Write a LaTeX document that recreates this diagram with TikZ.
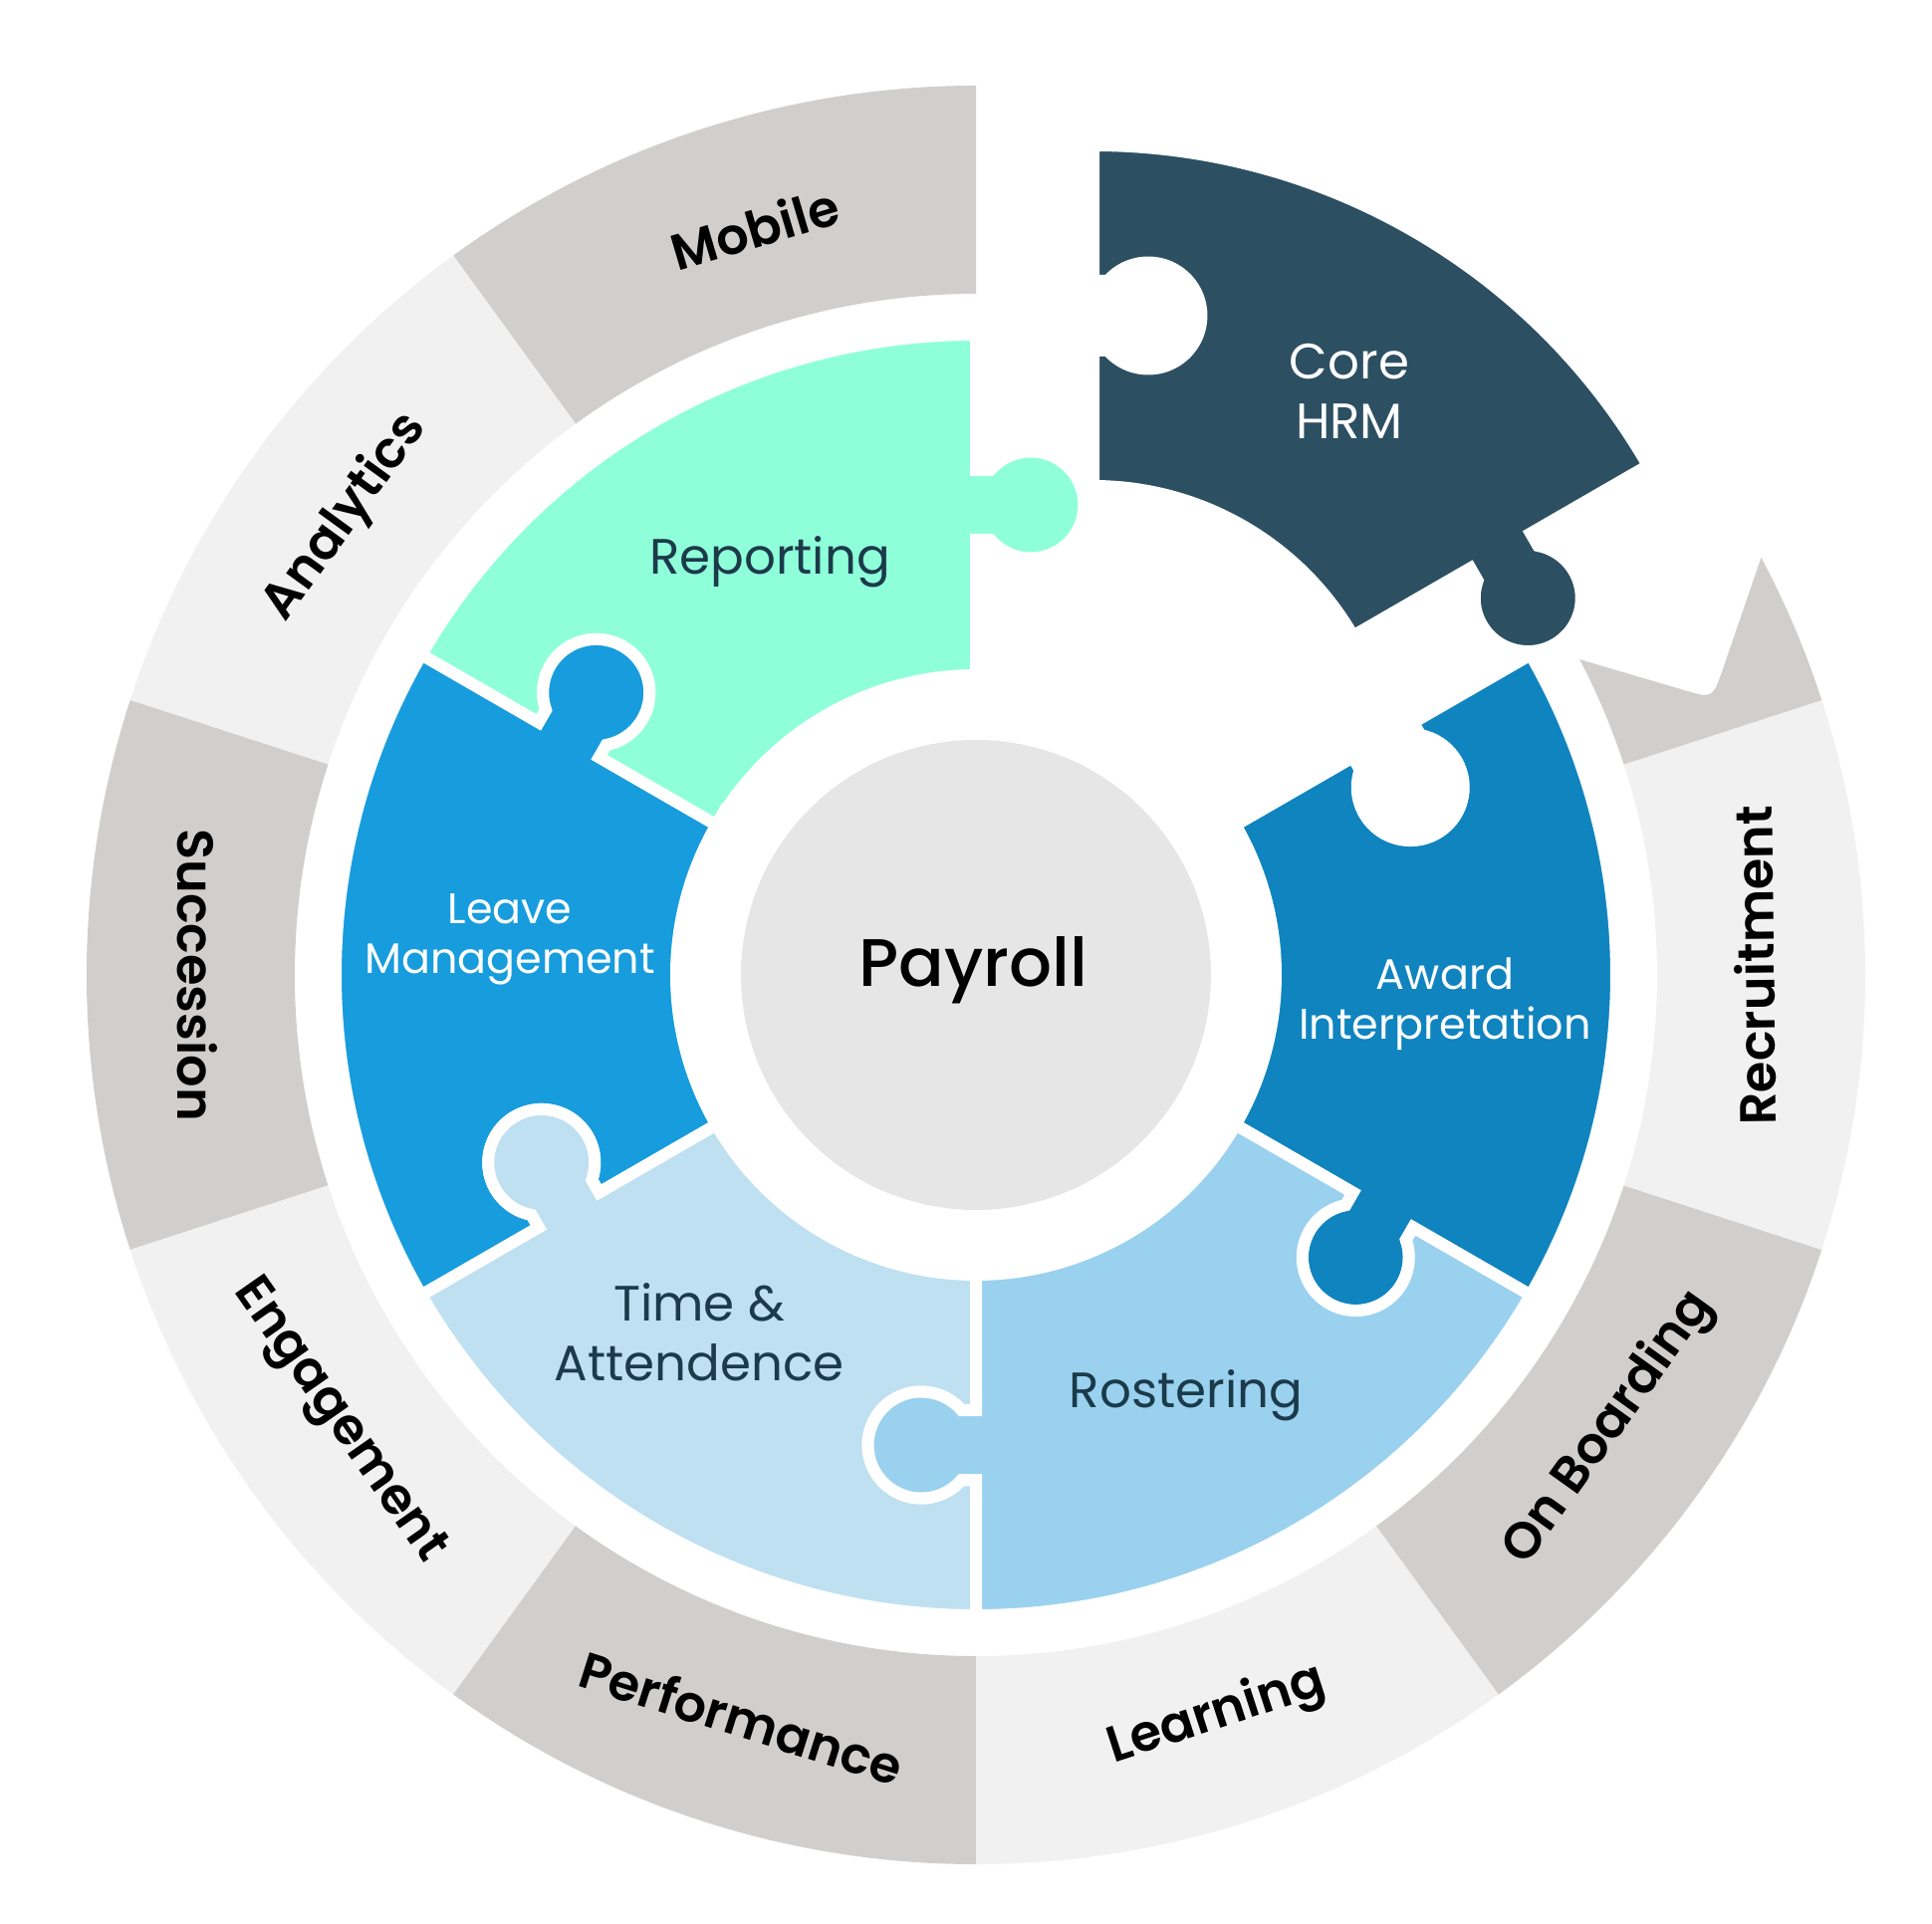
\documentclass[tikz,border=0pt]{standalone}
\usepackage{fontspec}
\setmainfont{Poppins}
\newfontfamily\ringfont{Poppins SemiBold}
\newfontfamily\centrefont{Poppins Medium}
\usetikzlibrary{calc,positioning}

\definecolor{ringdark}{HTML}{D0CFCE}
\definecolor{ringlight}{HTML}{F1F1F1}
\definecolor{reportmint}{HTML}{8FFFDA}
\definecolor{leaveblue}{HTML}{179CDD}
\definecolor{timeblue}{HTML}{BEE0F1}
\definecolor{rosterblue}{HTML}{99D1EF}
\definecolor{awardblue}{HTML}{0F84BF}
\definecolor{coreslate}{HTML}{2C4F62}
\definecolor{payrollgray}{HTML}{E6E6E6}
\definecolor{labeldark}{HTML}{1B3A4A}

% puzzle ring sizes (cm)
\def\rin{3.01}
\def\rout{6.43}
\def\rk{4.72}
\def\ka{0.35}
\def\kh{0.145}
\def\kr{0.535}

% knob on an edge, walked from inside to outside
\def\knobout#1{-- ([rotate=#1]\rk-\ka,0) -- ([rotate=#1]\rk-\ka,-\kh)
  arc[start angle=#1+130.86, end angle=#1+409.14, radius=\kr]
  -- ([rotate=#1]\rk+\ka,0)}
% the same edge, walked from outside to inside
\def\knobin#1{-- ([rotate=#1]\rk+\ka,0) -- ([rotate=#1]\rk+\ka,-\kh)
  arc[start angle=#1+409.14, end angle=#1+130.86, radius=\kr]
  -- ([rotate=#1]\rk-\ka,0)}
% one puzzle piece from angle #1 to #1+60
\def\piece#1#2{\fill[#2, puzzleedge] (#1:\rin) \knobout{#1} -- (#1:\rout)
  arc[start angle=#1, end angle=#1+60, radius=\rout] \knobin{#1+60}
  -- (#1+60:\rin) arc[start angle=#1+60, end angle=#1, radius=\rin] -- cycle;}

\tikzset{
  puzzleedge/.style={draw=white, line width=0.12cm, line join=miter},
  ringlabel/.style={font=\ringfont\fontsize{14.5}{17}\selectfont, text=black},
  piecelabel/.style={font=\fontsize{14.2}{17.2}\selectfont, align=center, text=labeldark},
  smalllabel/.style={font=\fontsize{12.2}{14.3}\selectfont, align=center, text=white},
}

\begin{document}
\begin{tikzpicture}
    \useasboundingbox (-9.80,-9.52) rectangle (9.60,9.79);

    % Outer ring
    \foreach \a/\c in {90/ringdark,126/ringlight,162/ringdark,198/ringlight,
                       234/ringdark,270/ringlight,306/ringdark,342/ringlight}
        \fill[\c] (\a:6.84) -- (\a:8.93) arc[start angle=\a, end angle=\a+36, radius=8.93]
            -- (\a+36:6.84) arc[start angle=\a+36, end angle=\a, radius=6.84] -- cycle;

    % Cut segment next to Core HRM
    \fill[ringdark] (18:6.84) -- (18:8.93) arc[start angle=18, end angle=28, radius=8.93]
        -- (7.495,3.058) .. controls (7.395,2.775) .. (7.108,2.861)
        -- (27.6:6.84) arc[start angle=27.6, end angle=18, radius=6.84] -- cycle;

    % Puzzle pieces
    \piece{-30}{awardblue}
    \piece{90}{reportmint}
    \piece{150}{leaveblue}
    \piece{210}{timeblue}
    \piece{270}{rosterblue}
    \begin{scope}[shift={(1.18,1.90)}]
        \piece{30}{coreslate}
    \end{scope}

    % Centre
    \fill[payrollgray] (0,0) circle (2.36);
    \node[font=\centrefont\fontsize{19.2}{22}\selectfont] (payroll) at (-0.03,0.05) {Payroll};

    % Piece labels
    \node[piecelabel] (reporting) at (-2.07,4.15) {Reporting};
    \node[smalllabel] (leave) at (-4.68,0.36) {Leave\\Management};
    \node[piecelabel] (time) at (-2.78,-3.59) {Time \&\\Attendence};
    \node[piecelabel] (rostering) at (2.11,-4.22) {Rostering};
    \node[smalllabel] (award) at (4.71,-0.29) {Award\\Interpretation};
    \node[piecelabel, text=white] (core) at (3.75,5.86) {Core\\HRM};

    % Ring labels
    \node[ringlabel, rotate=16.5] (mobile) at (106.5:7.82) {Mobile};
    \node[ringlabel, rotate=54] (analytics) at (144:7.82) {Analytics};
    \node[ringlabel, rotate=270] (succession) at (180:7.82) {Succession};
    \node[ringlabel, rotate=-55] (engagement) at (215:7.82) {Engagement};
    \node[ringlabel, rotate=-17.5] (performance) at (252.5:7.82) {Performance};
    \node[ringlabel, rotate=18] (learning) at (288:7.82) {Learning};
    \node[ringlabel, rotate=54.4] (onboarding) at (324.4:7.82) {On Boarding};
    \node[ringlabel, rotate=90.7] (recruitment) at (0.7:7.82) {Recruitment};
\end{tikzpicture}
\end{document}
